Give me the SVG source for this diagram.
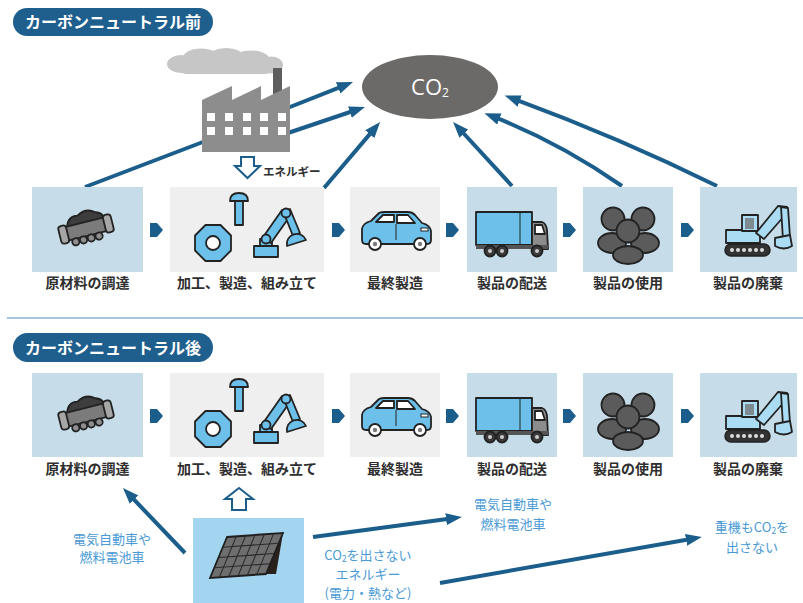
<svg xmlns="http://www.w3.org/2000/svg" xmlns:xlink="http://www.w3.org/1999/xlink" width="803" height="603" viewBox="0 0 803 603">
  <style>
    .pill { fill: #1f5f8d; }
    .pill-t { font-family: "Noto Sans CJK JP", sans-serif; font-size: 16px; font-weight: 700; fill: #ffffff; }
    .box-b { fill: #c6dde9; }
    .box-g { fill: #efefef; }
    .lbl { font-family: "Noto Sans CJK JP", sans-serif; font-size: 14px; font-weight: 700; fill: #2f2f2f; text-anchor: middle; }
    .note { font-family: "Noto Sans CJK JP", sans-serif; font-size: 13px; fill: #4a9ad5; text-anchor: middle; }
    .conn { fill: none; stroke: #1b5e8c; stroke-width: 4; stroke-linecap: butt; }
    .arr { marker-end: url(#ah); }
    .chev { fill: #1b5e8c; }
    .hollow { fill: #ffffff; stroke: #1b5e8c; stroke-width: 2; stroke-linejoin: miter; }
    .ol { stroke: #222222; stroke-width: 1.8; stroke-linejoin: round; }
    .lb { fill: #6cc0ea; }
    .xl { fill: #aadcf3; }
  </style>
  <defs>
    <marker id="ah" viewBox="0 0 16 12" refX="5" refY="6" markerWidth="16" markerHeight="12" markerUnits="userSpaceOnUse" orient="auto">
      <path d="M0,0 L16,6 L0,12 Z" fill="#1b5e8c"/>
    </marker>

    <!-- mine cart with coal -->
    <g id="icon-cart">
      <g transform="translate(86,229) rotate(-14)">
        <path class="ol" d="M-18,-6 Q-15,-17 -5,-15 Q5,-21 13,-14 Q20,-12 20,-6 Z" fill="#3d3d3d"/>
        <rect class="ol" x="-21" y="-7" width="42" height="14" rx="2" fill="#7b7b7b"/>
        <rect class="ol" x="-27" y="-9" width="8" height="18" rx="3" fill="#a6a6a6"/>
        <rect class="ol" x="19" y="-9" width="8" height="18" rx="3" fill="#a6a6a6"/>
        <circle class="ol" cx="-13" cy="10" r="3.6" fill="#8e8e8e"/>
        <circle class="ol" cx="-5" cy="10" r="3.6" fill="#8e8e8e"/>
        <circle class="ol" cx="3" cy="10" r="3.6" fill="#8e8e8e"/>
        <circle class="ol" cx="11" cy="10" r="3.6" fill="#8e8e8e"/>
      </g>
    </g>

    <!-- nut, bolt and robot arm -->
    <g id="icon-parts">
      <polygon class="ol lb" stroke-width="2.2" points="205.5,225 220.5,225 231,235.5 231,250.5 220.5,261 205.5,261 195,250.5 195,235.5"/>
      <circle class="ol" cx="213" cy="243" r="7" fill="#ffffff" stroke-width="2.2"/>
      <path class="ol lb" d="M230,201 Q230,193 239,193 Q248,193 248,201 Z"/>
      <rect class="ol lb" x="235" y="201" width="8" height="24"/>
      <rect class="ol lb" x="254" y="246" width="24" height="11"/>
      <rect class="ol lb" x="260" y="239" width="12" height="7"/>
      <path class="ol lb" d="M261,240 L282,210 L290,216 L271,243 Z"/>
      <path class="ol lb" d="M283,211 L290,209 L300,233 L293,236 Z"/>
      <circle class="ol lb" cx="266" cy="239" r="4.5"/>
      <circle class="ol lb" cx="286" cy="213" r="4.5"/>
      <path class="ol lb" d="M287,246 A10,10 0 0 1 306,240 Z"/>
    </g>

    <!-- hatchback car -->
    <g id="icon-car">
      <path class="ol lb" stroke-width="2" d="M362,240 L362,229 Q363,223 371,221 L379,213 Q381,212 385,212 L408,212 Q412,212 415,215 L422,223 Q430,225 431,231 L431,240 Q431,244 427,244 L366,244 Q362,244 362,240 Z"/>
      <path class="ol" stroke-width="1.4" d="M376,222 L383,215 L394,215 L394,222 Z" fill="#ffffff"/>
      <path class="ol" stroke-width="1.4" d="M397,215 L408,215 L415,223 L397,223 Z" fill="#ffffff"/>
      <line x1="396" y1="224" x2="396" y2="240" stroke="#222" stroke-width="1"/>
      <rect x="421" y="228" width="7" height="3" fill="#ffffff" stroke="#222" stroke-width="1"/>
      <circle class="ol" cx="375" cy="244" r="6" fill="#ffffff" stroke-width="2.2"/>
      <circle class="ol" cx="420" cy="244" r="6" fill="#ffffff" stroke-width="2.2"/>
      <circle cx="375" cy="244" r="2.2" fill="#7a7a7a"/>
      <circle cx="420" cy="244" r="2.2" fill="#7a7a7a"/>
    </g>

    <!-- delivery truck -->
    <g id="icon-truck">
      <rect class="ol lb" x="476" y="212" width="56" height="33"/>
      <line x1="520" y1="213" x2="520" y2="244" stroke="#222" stroke-width="1"/>
      <path class="ol" d="M532,222 L542,222 Q546,223 547,230 L548,249 L532,249 Z" fill="#8c8c8c"/>
      <path class="ol" stroke-width="1.2" d="M535,225 L542,225 L545,234 L535,234 Z" fill="#ffffff"/>
      <rect x="476" y="245" width="72" height="4" fill="#555555"/>
      <circle class="ol" cx="490" cy="251" r="5.5" fill="#3a3a3a"/>
      <circle class="ol" cx="502" cy="251" r="5.5" fill="#3a3a3a"/>
      <circle class="ol" cx="537" cy="251" r="5.5" fill="#3a3a3a"/>
      <circle cx="490" cy="251" r="2" fill="#cccccc"/>
      <circle cx="502" cy="251" r="2" fill="#cccccc"/>
      <circle cx="537" cy="251" r="2" fill="#cccccc"/>
    </g>

    <!-- group of people -->
    <g id="icon-people">
      <g class="ol" fill="#5b5b5b" stroke-width="1.5">
        <circle cx="613" cy="219" r="11.5"/>
        <circle cx="643" cy="219" r="11.5"/>
        <ellipse cx="612" cy="243" rx="14" ry="10"/>
        <ellipse cx="645" cy="243" rx="14" ry="10"/>
        <circle cx="628" cy="231" r="11.5"/>
        <ellipse cx="628" cy="255" rx="15" ry="9"/>
      </g>
    </g>

    <!-- excavator -->
    <g id="icon-excavator">
      <rect x="725" y="244" width="45" height="12" rx="6" fill="#333333" stroke="#222" stroke-width="1.5"/>
      <g fill="#dddddd">
        <circle cx="732" cy="250" r="2"/><circle cx="738" cy="250" r="2"/><circle cx="744" cy="250" r="2"/>
        <circle cx="750" cy="250" r="2"/><circle cx="756" cy="250" r="2"/><circle cx="762" cy="250" r="2"/>
      </g>
      <rect class="ol xl" x="726" y="230" width="34" height="13"/>
      <rect class="ol xl" x="742" y="215" width="16" height="16"/>
      <rect x="745" y="218" width="9" height="11" fill="#7e8c92"/>
      <path class="ol xl" d="M756,233 L778,206 L787,207 L786,214 L764,239 Z"/>
      <path class="ol xl" d="M781,207 L788,208 L790,237 L783,240 Z"/>
      <path class="ol xl" d="M775,238 L790,235 L792,246 Q784,251 775,246 Z"/>
    </g>
  </defs>

  <!-- section header: before -->
  <g id="header-before">
    <rect class="pill" x="13" y="8" width="200" height="28" rx="14"/>
    <text class="pill-t" x="113" y="28" text-anchor="middle">カーボンニュートラル前</text>
  </g>

  <!-- connectors (upper section) -->
  <g id="connectors-before">
    <path class="conn" d="M85,187 L216,137"/>
    <path class="conn arr" d="M285,134 L354.6,110.5"/>
    <path class="conn arr" d="M285,109 L342.8,86.1"/>
    <path class="conn arr" d="M324,188 L373,130.4"/>
    <path class="conn arr" d="M512,186 L460.5,130"/>
    <path class="conn arr" d="M622,186 Q560,143 494.7,117.2"/>
    <path class="conn arr" d="M717,186 Q620,138 515,99.3"/>
  </g>

  <!-- factory -->
  <g id="factory">
    <g fill="#c6c6c6">
      <ellipse cx="181" cy="64" rx="14" ry="9"/>
      <ellipse cx="201" cy="58" rx="18" ry="9.5"/>
      <ellipse cx="226" cy="57" rx="18" ry="9"/>
      <ellipse cx="251" cy="59" rx="18" ry="8.5"/>
      <ellipse cx="271" cy="65" rx="12" ry="8.5"/>
      <rect x="180" y="62" width="92" height="12" rx="6"/>
    </g>
    <rect x="273" y="68" width="9" height="26" fill="#5e5e5e"/>
    <path d="M202,152 L202,100 L232,86 L232,100 L261,86 L261,100 L290,86 L290,152 Z" fill="#8d8d8d"/>
    <g fill="#ffffff">
      <rect x="207" y="113" width="8" height="8"/><rect x="225" y="113" width="8" height="8"/>
      <rect x="243" y="113" width="8" height="8"/><rect x="260" y="113" width="8" height="8"/>
      <rect x="278" y="113" width="8" height="8"/>
      <rect x="207" y="127" width="8" height="8"/><rect x="225" y="127" width="8" height="8"/>
      <rect x="243" y="127" width="8" height="8"/><rect x="260" y="127" width="8" height="8"/>
      <rect x="278" y="127" width="8" height="8"/>
    </g>
  </g>

  <!-- energy supplied to manufacturing -->
  <g id="energy-before">
    <polygon class="hollow" points="241,157 254,157 254,166 260,166 247.5,178 235,166 241,166"/>
    <text x="263" y="176" font-family="'Noto Sans CJK JP', sans-serif" font-size="11.5" font-weight="700" fill="#2f2f2f">エネルギー</text>
  </g>

  <!-- CO2 -->
  <g id="co2">
    <ellipse cx="430" cy="87" rx="68" ry="32" fill="#6c6a68"/>
    <text x="430" y="95" text-anchor="middle" font-family="'Open Sans', sans-serif" font-size="22" fill="#ffffff">CO<tspan font-size="12" dy="2">2</tspan></text>
  </g>

  <!-- process row: before -->
  <g id="row-before">
    <g id="b-procure">
      <rect class="box-b" x="32" y="187" width="111" height="85"/>
      <use href="#icon-cart"/>
      <text class="lbl" x="87.5" y="288">原材料の調達</text>
    </g>
    <g id="b-make">
      <rect class="box-g" x="170" y="187" width="154" height="85"/>
      <use href="#icon-parts"/>
      <text class="lbl" x="247" y="288">加工、製造、組み立て</text>
    </g>
    <g id="b-final">
      <rect class="box-g" x="350" y="187" width="90" height="85"/>
      <use href="#icon-car"/>
      <text class="lbl" x="395" y="288">最終製造</text>
    </g>
    <g id="b-deliver">
      <rect class="box-b" x="467" y="187" width="90" height="85"/>
      <use href="#icon-truck"/>
      <text class="lbl" x="512" y="288">製品の配送</text>
    </g>
    <g id="b-use">
      <rect class="box-b" x="583" y="187" width="90" height="85"/>
      <use href="#icon-people"/>
      <text class="lbl" x="628" y="288">製品の使用</text>
    </g>
    <g id="b-dispose">
      <rect class="box-b" x="700" y="187" width="97" height="85"/>
      <use href="#icon-excavator"/>
      <text class="lbl" x="748" y="288">製品の廃棄</text>
    </g>
    <g id="b-steps">
      <polygon class="chev" points="150,223 157,223 163,230 157,237 150,237"/>
      <polygon class="chev" points="332,223 339,223 345,230 339,237 332,237"/>
      <polygon class="chev" points="446,223 453,223 459,230 453,237 446,237"/>
      <polygon class="chev" points="563,223 570,223 576,230 570,237 563,237"/>
      <polygon class="chev" points="681,223 688,223 694,230 688,237 681,237"/>
    </g>
  </g>

  <!-- divider -->
  <line x1="7" y1="318" x2="803" y2="318" stroke="#a4c6e1" stroke-width="2"/>

  <!-- section header: after -->
  <g id="header-after">
    <rect class="pill" x="13" y="333" width="200" height="29" rx="14.5"/>
    <text class="pill-t" x="113" y="354" text-anchor="middle">カーボンニュートラル後</text>
  </g>

  <!-- process row: after -->
  <g id="row-after">
    <g id="a-procure">
      <rect class="box-b" x="32" y="373" width="111" height="84"/>
      <use href="#icon-cart" y="186"/>
      <text class="lbl" x="87.5" y="474">原材料の調達</text>
    </g>
    <g id="a-make">
      <rect class="box-g" x="170" y="373" width="154" height="84"/>
      <use href="#icon-parts" y="186"/>
      <text class="lbl" x="247" y="474">加工、製造、組み立て</text>
    </g>
    <g id="a-final">
      <rect class="box-g" x="350" y="373" width="90" height="84"/>
      <use href="#icon-car" y="186"/>
      <text class="lbl" x="395" y="474">最終製造</text>
    </g>
    <g id="a-deliver">
      <rect class="box-b" x="467" y="373" width="90" height="84"/>
      <use href="#icon-truck" y="186"/>
      <text class="lbl" x="512" y="474">製品の配送</text>
    </g>
    <g id="a-use">
      <rect class="box-b" x="583" y="373" width="90" height="84"/>
      <use href="#icon-people" y="186"/>
      <text class="lbl" x="628" y="474">製品の使用</text>
    </g>
    <g id="a-dispose">
      <rect class="box-b" x="700" y="373" width="97" height="84"/>
      <use href="#icon-excavator" y="186"/>
      <text class="lbl" x="748" y="474">製品の廃棄</text>
    </g>
    <g id="a-steps">
      <polygon class="chev" points="150,409 157,409 163,416 157,423 150,423"/>
      <polygon class="chev" points="332,409 339,409 345,416 339,423 332,423"/>
      <polygon class="chev" points="446,409 453,409 459,416 453,423 446,423"/>
      <polygon class="chev" points="563,409 570,409 576,416 570,423 563,423"/>
      <polygon class="chev" points="681,409 688,409 694,416 688,423 681,423"/>
    </g>
  </g>

  <!-- solar energy source -->
  <g id="solar">
    <rect x="193" y="518" width="111" height="85" fill="#a3d4f0"/>
    <polygon points="283,533 276,574 263,574" fill="#2a211c"/>
    <g transform="matrix(0.933,-0.0667,-0.425,1.025,227,537)">
      <rect x="0" y="0" width="60" height="40" fill="#6e6e6e" stroke="#1e1e1e" stroke-width="2"/>
      <g stroke="#2a2a2a" stroke-width="1.2">
        <line x1="10" y1="0" x2="10" y2="40"/><line x1="20" y1="0" x2="20" y2="40"/>
        <line x1="30" y1="0" x2="30" y2="40"/><line x1="40" y1="0" x2="40" y2="40"/>
        <line x1="50" y1="0" x2="50" y2="40"/>
        <line x1="0" y1="10" x2="60" y2="10"/><line x1="0" y1="20" x2="60" y2="20"/>
        <line x1="0" y1="30" x2="60" y2="30"/>
      </g>
    </g>
    <polygon class="hollow" points="239,488 253,499 246,499 246,510 232,510 232,499 225,499"/>
  </g>

  <!-- connectors (lower section) -->
  <g id="connectors-after">
    <path class="conn arr" d="M185,553 L130.6,496"/>
    <path class="conn arr" d="M313,537 L451,518.5"/>
    <path class="conn arr" stroke-width="4.5" d="M440,583 L691,539"/>
  </g>

  <!-- notes -->
  <g id="notes">
    <text class="note" x="112" y="544">電気自動車や</text>
    <text class="note" x="112" y="562">燃料電池車</text>
    <text class="note" x="513" y="509">電気自動車や</text>
    <text class="note" x="513" y="529">燃料電池車</text>
    <text class="note" x="368" y="560">CO<tspan font-size="8.5" dy="2">2</tspan><tspan dy="-2">を出さない</tspan></text>
    <text class="note" x="368" y="579">エネルギー</text>
    <text class="note" x="368" y="598">(電力・熱など)</text>
    <text class="note" x="752" y="532">重機もCO<tspan font-size="8.5" dy="2">2</tspan><tspan dy="-2">を</tspan></text>
    <text class="note" x="752" y="552">出さない</text>
  </g>
</svg>
